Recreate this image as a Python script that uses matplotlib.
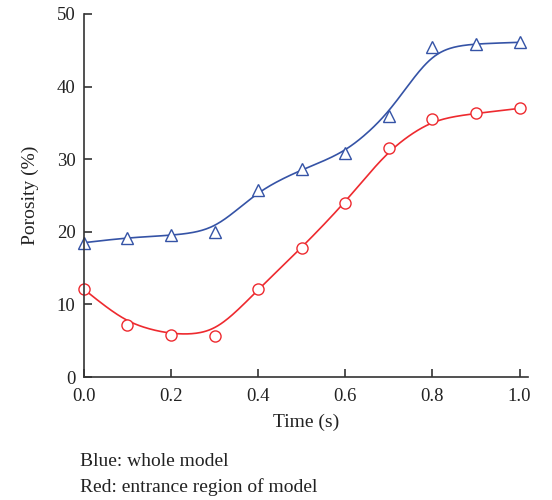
import numpy as np
import matplotlib.pyplot as plt

plt.rcParams['font.family'] = ['Liberation Serif', 'DejaVu Serif']

# Datos
time = [0.0, 0.1, 0.2, 0.3, 0.4, 0.5, 0.6, 0.7, 0.8, 0.9, 1.0]
whole_model = [18.5, 19.2, 19.5, 20.0, 25.8, 28.6, 30.8, 36.0, 45.5, 45.9, 46.1]
entrance = [12.1, 7.2, 5.8, 5.7, 12.1, 17.8, 24.0, 31.5, 35.6, 36.3, 37.0]

blue = '#3553a6'
red = '#ee2a2f'


def smooth(x, y, xs, bw=0.06):
    # regresión local lineal con núcleo gaussiano
    x = np.asarray(x)
    y = np.asarray(y)
    out = []
    for x0 in xs:
        w = np.exp(-0.5 * ((x - x0) / bw) ** 2)
        A = np.vstack([np.ones_like(x), x - x0]).T
        W = np.diag(w)
        beta = np.linalg.lstsq(A.T @ W @ A, A.T @ W @ y, rcond=None)[0]
        out.append(beta[0])
    return np.array(out)


xs = np.linspace(0, 1, 300)

fig = plt.figure(figsize=(5.52, 5.0), dpi=100)
ax = fig.add_axes([0.152, 0.246, 0.805, 0.726])

ax.plot(xs, smooth(time, whole_model, xs), color=blue, lw=1.2)
ax.plot(xs, smooth(time, entrance, xs), color=red, lw=1.2)
ax.plot(time, whole_model, linestyle='none', marker='^', ms=9, mfc='white',
        mec=blue, mew=1.0, clip_on=False)
ax.plot(time, entrance, linestyle='none', marker='o', ms=8, mfc='white',
        mec=red, mew=1.0, clip_on=False)

ax.set_xlim(0, 1.02)
ax.set_ylim(0, 50)
ax.set_xticks([0.0, 0.2, 0.4, 0.6, 0.8, 1.0])
ax.set_xticklabels(['0.0', '0.2', '0.4', '0.6', '0.8', '1.0'])
ax.set_yticks([0, 10, 20, 30, 40, 50])
ax.spines['top'].set_visible(False)
ax.spines['right'].set_visible(False)
for s in ['left', 'bottom']:
    ax.spines[s].set_color('#333333')
    ax.spines[s].set_linewidth(1.2)
ax.tick_params(direction='in', length=6, width=1.2, color='#333333',
               labelsize=13.5, colors='#222222')
ax.tick_params(axis='x', pad=8)
ax.tick_params(axis='y', pad=6)
ax.set_xlabel('Time (s)', fontsize=14, color='#222222', labelpad=6)
ax.set_ylabel('Porosity (%)', fontsize=14, color='#222222', labelpad=13)

fig.text(0.145, 0.068, 'Blue: whole model', fontsize=14, color='#222222')
fig.text(0.145, 0.015, 'Red: entrance region of model', fontsize=14,
         color='#222222')

fig.savefig('out.png', dpi=100)
